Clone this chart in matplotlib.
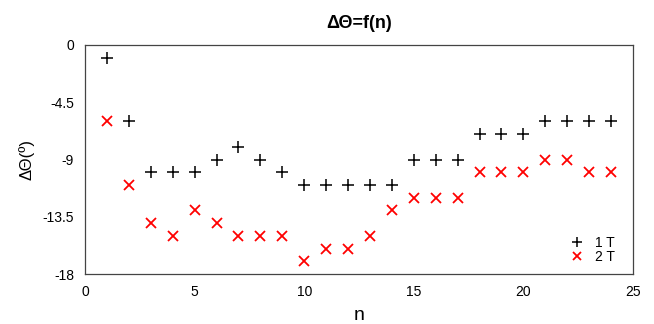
import matplotlib
matplotlib.use("agg")
import matplotlib.pyplot as plt

n = list(range(1, 25))
theta_1t = [-1, -6, -10, -10, -10, -9, -8, -9, -10, -11, -11, -11,
            -11, -11, -9, -9, -9, -7, -7, -7, -6, -6, -6, -6]
theta_2t = [-6, -11, -14, -15, -13, -14, -15, -15, -15, -17, -16, -16,
            -15, -13, -12, -12, -12, -10, -10, -10, -9, -9, -10, -10]
y_ticks = [0, -4.5, -9, -13.5, -18]
y_tick_labels = ["0", "-4.5", "-9", "-13.5", "-18"]
x_ticks = [0, 5, 10, 15, 20, 25]

plt.rcParams["font.family"] = ["Liberation Sans", "DejaVu Sans"]

fig = plt.figure(figsize=(6.54, 3.24), dpi=100)
ax = fig.add_axes([85 / 654, 1 - 274 / 324, 548 / 654, 229 / 324])

ax.plot(n, theta_1t, linestyle="none", marker="+", color="black",
        markersize=8, markeredgewidth=1.1, label="1 T")
ax.plot(n, theta_2t, linestyle="none", marker="x", color="#ff0000",
        markersize=7, markeredgewidth=1.3, label="2 T")

ax.set_xlim(0, 25)
ax.set_ylim(-18, 0)
ax.set_xticks(x_ticks)
ax.set_yticks(y_ticks)
ax.set_yticklabels(y_tick_labels)
ax.tick_params(axis="both", length=0, labelsize=10, pad=8)
for spine in ax.spines.values():
    spine.set_edgecolor("#444444")
    spine.set_linewidth(0.9)

ax.set_title("ΔΘ=f(n)", fontsize=13, fontweight="bold", pad=12)
ax.set_xlabel("n", fontsize=14, labelpad=6)
ax.set_ylabel("ΔΘ(º)", fontsize=12, labelpad=6)

leg = ax.legend(loc="lower right", bbox_to_anchor=(0.985, 0.0),
                frameon=False, fontsize=10,
                handlelength=1.0, handletextpad=0.8, labelspacing=0.05,
                borderaxespad=0.3, markerscale=0.85)

fig.savefig("out.png", dpi=100)
